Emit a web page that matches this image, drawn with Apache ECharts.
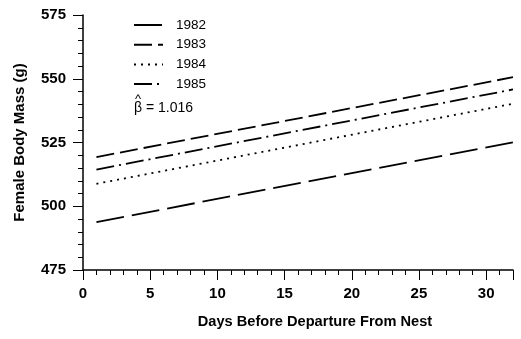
<!DOCTYPE html>
<html>
<head>
<meta charset="utf-8">
<script src="https://cdn.jsdelivr.net/npm/echarts@6/dist/echarts.min.js"></script>
<style>
  html, body { margin: 0; padding: 0; background: #fff; }
  #chart { width: 521px; height: 339px; }
</style>
</head>
<body>
<div id="chart"></div>
<script>
// fitted lines, read at the ends of the plotted range
const years = ['1982', '1983', '1984', '1985'];
const days = [1, 32];
const mass1982 = [493.8, 525.1];
const mass1983 = [519.3, 550.6];
const mass1984 = [508.8, 540.2];
const mass1985 = [514.4, 545.8];
const betaText = '1.016';

const masses = [mass1982, mass1983, mass1984, mass1985];
const dashes = [[28, 8], [18, 6], [2, 5], [18, 5, 2, 5]];

let chart = echarts.init(document.getElementById('chart'));

let series = years.map((yr, i) => {
    return {
        name: yr,
        type: 'line',
        data: days.map((d, j) => [d, masses[i][j]]),
        symbol: 'none',
        lineStyle: { color: '#000', width: 1.8, type: dashes[i] },
        itemStyle: { color: '#000' },
        emphasis: { disabled: true },
        silent: true
    };
});

const font = 'Liberation Sans, Arial, sans-serif';

chart.setOption({
    animation: false,
    grid: { left: 83, right: 8, top: 15, bottom: 69 },
    legend: {
        orient: 'vertical',
        left: 128,
        top: 13,
        itemWidth: 29,
        itemHeight: 14,
        itemGap: 5.7,
        itemStyle: { opacity: 0 },
        textStyle: { fontFamily: font, fontSize: 13.5, color: '#000', padding: [0, 0, 0, 8] },
        data: years
    },
    xAxis: {
        type: 'value',
        min: 0,
        max: 32,
        interval: 5,
        name: 'Days Before Departure From Nest',
        nameLocation: 'middle',
        nameGap: 44,
        nameTextStyle: { fontFamily: font, fontSize: 14.6, fontWeight: 'bold', color: '#000', padding: [0, 0, 0, 34] },
        axisLine: { lineStyle: { color: '#000', width: 1.5 } },
        axisTick: { show: true, length: 10, lineStyle: { color: '#000' } },
        minorTick: { show: true, splitNumber: 5, length: 5, lineStyle: { color: '#000' } },
        axisLabel: { fontFamily: font, fontSize: 15, fontWeight: 'bold', color: '#000', margin: 16, showMaxLabel: false },
        splitLine: { show: false }
    },
    yAxis: {
        type: 'value',
        min: 475,
        max: 575,
        interval: 25,
        name: 'Female Body Mass (g)',
        nameLocation: 'middle',
        nameGap: 56,
        nameTextStyle: { fontFamily: font, fontSize: 15, fontWeight: 'bold', color: '#000' },
        axisLine: { show: true, lineStyle: { color: '#000', width: 1.5 } },
        axisTick: { show: true, length: 10, lineStyle: { color: '#000' } },
        minorTick: { show: true, splitNumber: 5, length: 5, lineStyle: { color: '#000' } },
        axisLabel: { fontFamily: font, fontSize: 15, fontWeight: 'bold', color: '#000', margin: 17 },
        splitLine: { show: false }
    },
    graphic: [{
        type: 'text',
        left: 134,
        top: 101,
        style: {
            text: 'β = ' + betaText,
            font: '14px ' + font,
            fill: '#000'
        }
    }, {
        type: 'text',
        left: 135,
        top: 93,
        style: {
            text: '^',
            font: '13px ' + font,
            fill: '#000'
        }
    }],
    series: series
});
</script>
</body>
</html>
